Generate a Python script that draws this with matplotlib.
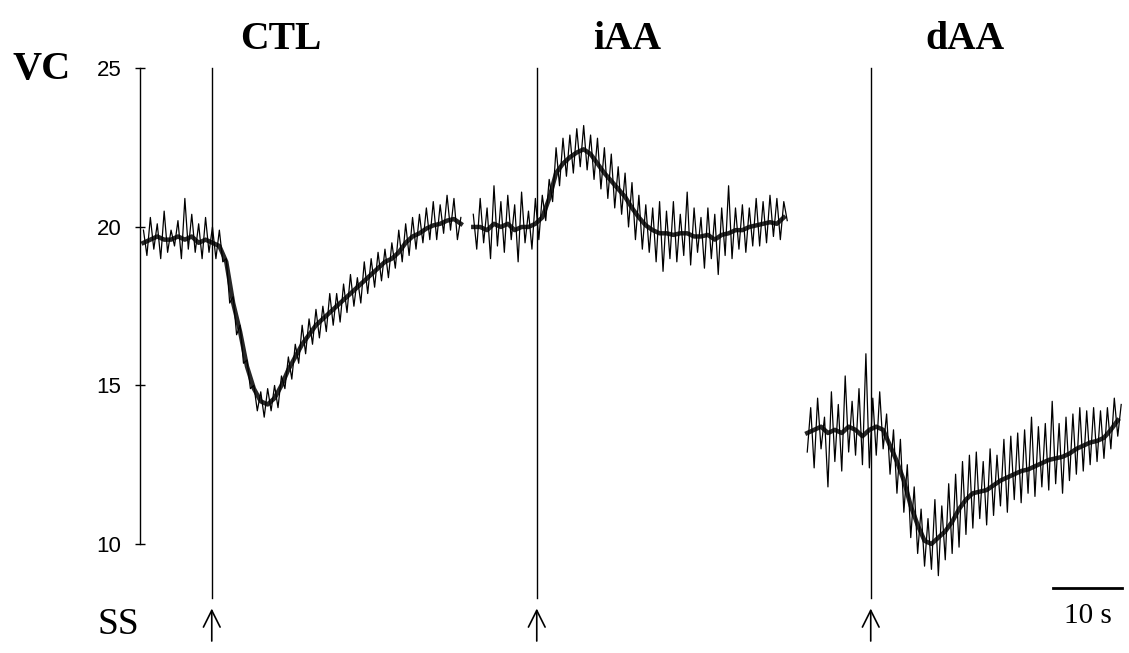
import numpy as np
import matplotlib
matplotlib.use('Agg')
import matplotlib.pyplot as plt

# VC traces, one sample every 0.5 s
ctl_t0 = 0.5
ctl_vc = [19.9, 19.1, 20.3, 19.3, 20.1, 19.0, 20.5, 19.2, 19.9, 19.4,
          20.2, 19.0, 20.9, 19.3, 20.4, 19.2, 20.1, 19.0, 20.3, 19.2,
          20.0, 19.0, 19.9, 18.9, 19.0, 17.6, 17.8, 16.6, 16.9, 15.7,
          15.8, 14.9, 15.0, 14.2, 14.8, 14.0, 14.9, 14.2, 15.0, 14.3,
          15.3, 14.9, 15.9, 15.2, 16.3, 15.7, 16.9, 16.0, 17.1, 16.3,
          17.4, 16.5, 17.5, 16.7, 17.9, 16.9, 17.9, 17.0, 18.2, 17.3,
          18.5, 17.5, 18.4, 17.6, 18.9, 17.9, 19.0, 18.1, 19.2, 18.3,
          19.3, 18.4, 19.5, 18.7, 19.9, 18.9, 20.1, 19.1, 20.3, 19.3,
          20.4, 19.5, 20.6, 19.6, 20.8, 19.6, 20.7, 19.8, 21.0, 19.9,
          20.9, 19.6, 20.3]

iaa_t0 = 48.3
iaa_vc = [20.4, 19.3, 20.9, 19.5, 20.6, 19.0, 21.3, 19.4, 20.8, 19.2,
          21.0, 19.6, 20.7, 18.9, 21.1, 19.5, 20.5, 19.3, 20.9, 19.6,
          21.0, 20.2, 21.5, 20.8, 22.5, 21.3, 22.8, 21.6, 22.9, 21.7,
          23.1, 21.9, 23.2, 21.8, 22.9, 21.5, 22.8, 21.2, 22.5, 20.9,
          22.3, 20.6, 21.9, 20.4, 21.7, 20.0, 21.4, 19.6, 21.0, 19.3,
          20.7, 19.2, 20.6, 18.9, 20.8, 18.6, 20.5, 19.0, 20.8, 18.9,
          20.4, 19.1, 21.1, 18.8, 20.6, 19.2, 20.3, 18.7, 20.6, 19.0,
          20.4, 18.5, 20.6, 19.1, 21.3, 19.0, 20.6, 19.3, 20.7, 19.2,
          20.6, 19.4, 20.9, 19.4, 20.8, 19.5, 21.0, 19.7, 20.9, 19.6,
          20.8, 20.2]

daa_t0 = 96.7
daa_vc = [12.9, 14.3, 12.4, 14.6, 13.0, 14.0, 11.8, 14.8, 12.6, 14.4,
          12.3, 15.3, 12.9, 14.5, 12.8, 14.9, 12.5, 16.0, 12.4, 14.6,
          12.8, 14.8, 13.0, 14.1, 12.2, 13.6, 11.6, 13.3, 11.0, 12.5,
          10.2, 11.8, 9.7, 11.1, 9.3, 10.8, 9.2, 11.4, 9.0, 11.2,
          9.5, 11.9, 9.7, 12.2, 9.9, 12.6, 10.3, 12.8, 10.5, 12.9,
          10.8, 12.6, 10.6, 13.0, 10.9, 12.8, 11.2, 13.3, 11.0, 13.4,
          11.4, 13.5, 11.3, 13.6, 11.6, 14.0, 11.5, 13.7, 11.8, 13.8,
          11.7, 14.5, 11.9, 13.8, 11.6, 14.0, 12.0, 14.1, 12.2, 14.3,
          12.3, 14.2, 12.5, 14.3, 12.6, 14.2, 12.7, 14.3, 13.0, 14.6,
          13.4, 14.4]

# dark core of each trace, one value per second
ctl_core = [19.5, 19.6, 19.7, 19.6, 19.6, 19.7, 19.6, 19.7, 19.5, 19.6,
            19.5, 19.4, 18.9, 17.6, 16.7, 15.6, 14.9, 14.5, 14.4, 14.6,
            15.0, 15.5, 15.9, 16.3, 16.6, 16.9, 17.1, 17.3, 17.5, 17.7,
            17.9, 18.1, 18.3, 18.5, 18.7, 18.9, 19.0, 19.2, 19.5, 19.7,
            19.8, 19.95, 20.05, 20.1, 20.2, 20.25, 20.1]
iaa_core = [20.0, 20.0, 19.9, 20.1, 20.0, 20.1, 19.9, 20.0, 20.0, 20.1,
            20.3, 20.9, 21.7, 22.0, 22.2, 22.35, 22.45, 22.3, 22.0, 21.7,
            21.45, 21.2, 20.95, 20.6, 20.3, 20.05, 19.9, 19.8, 19.8, 19.75,
            19.8, 19.8, 19.7, 19.7, 19.75, 19.6, 19.75, 19.8, 19.9, 19.9,
            20.0, 20.05, 20.1, 20.15, 20.1, 20.3]
daa_core = [13.5, 13.6, 13.7, 13.5, 13.6, 13.5, 13.7, 13.6, 13.4, 13.6,
            13.7, 13.6, 13.1, 12.6, 12.0, 11.2, 10.6, 10.1, 10.0, 10.2,
            10.4, 10.7, 11.1, 11.4, 11.6, 11.65, 11.7, 11.85, 12.0, 12.1,
            12.2, 12.3, 12.35, 12.45, 12.55, 12.65, 12.7, 12.75, 12.85, 13.0,
            13.1, 13.2, 13.25, 13.35, 13.6, 13.9]

dt = 0.5
titles = ['CTL', 'iAA', 'dAA']
title_x = [20.4, 70.6, 119.6]
stim_times = [10.4, 57.5, 105.9]
yticks = [10, 15, 20, 25]

serif = ['Liberation Serif', 'DejaVu Serif']

fig = plt.figure(figsize=(11.29, 6.53), dpi=100)
ax = fig.add_axes([0, 0, 1, 1])
ax.set_xlim(-20.29, 143.33)
ax.set_ylim(6.56, 27.16)

traces = [(ctl_t0, ctl_vc, ctl_core), (iaa_t0, iaa_vc, iaa_core),
          (daa_t0, daa_vc, daa_core)]
for t0, vc, core in traces:
    t = t0 + dt * np.arange(len(vc))
    ax.plot(t, vc, color='black', lw=0.9)
    tc = t0 + 1.0 * np.arange(len(core))
    ax.plot(tc, core, color='black', lw=3.2, alpha=0.85)

# stimulus lines and arrows
for ts in stim_times:
    ax.plot([ts, ts], [25.0, 8.3], color='black', lw=1)
    ax.annotate('', xy=(ts, 8.05), xytext=(ts, 6.85),
                arrowprops=dict(arrowstyle='->', color='black', lw=1.2,
                                mutation_scale=30))

for name, x in zip(titles, title_x):
    ax.text(x, 25.9, name, ha='center', va='center', fontsize=28.5,
            fontweight='bold', family=serif)

ax.text(-18.55, 24.98, 'VC', ha='left', va='center', fontsize=29,
        fontweight='bold', family=serif)
ax.text(-3.2, 7.44, 'SS', ha='center', va='center', fontsize=27,
        family=serif)

# scale bar
ax.plot([132.3, 142.3], [8.61, 8.61], color='black', lw=2)
ax.text(137.4, 7.72, '10 s', ha='center', va='center', fontsize=21,
        family=serif)

for s in ['top', 'right', 'bottom']:
    ax.spines[s].set_visible(False)
ax.spines['left'].set_position(('data', 0))
ax.spines['left'].set_bounds(10, 25)
ax.spines['left'].set_linewidth(1)
ax.set_xticks([])
ax.set_yticks(yticks)
ax.set_yticklabels([str(v) for v in yticks], family='Liberation Sans')
ax.tick_params(axis='y', direction='inout', length=6.5, width=1,
               labelsize=16, pad=10)

plt.savefig('out.png', dpi=100)
